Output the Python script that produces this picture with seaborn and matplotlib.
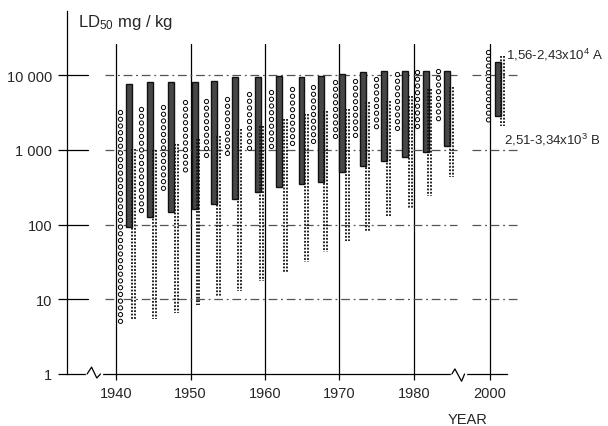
import matplotlib
matplotlib.use('Agg')
import matplotlib.pyplot as plt
import matplotlib.transforms as mtransforms
import seaborn as sns

# LD50 ranges (mg/kg) per period: open circles, dark bars, dotted columns
circle_year = [1940.5, 1943.4, 1946.3, 1949.3, 1952.1, 1954.9, 1957.9, 1960.8, 1963.6,
               1966.4, 1969.4, 1972.1, 1974.9, 1977.7, 1980.4, 1983.2, 1999.8]
circle_high = [3200, 3500, 3700, 4400, 4500, 4800, 5600, 6000, 6600,
               7000, 8100, 8400, 8900, 10400, 11000, 11400, 20500]
circle_low = [5, 130, 275, 500, 760, 880, 970, 970, 1100,
              1280, 1320, 1550, 1740, 1900, 1800, 2200, 2350]

bar_year = [1941.7, 1944.5, 1947.4, 1950.6, 1953.2, 1956.0, 1959.0, 1961.9, 1964.9,
            1967.5, 1970.4, 1973.2, 1976.0, 1978.8, 1981.6, 1984.4, 2001.1]
bar_high = [7600, 8100, 8100, 8100, 8400, 9500, 9500, 9800, 9500,
            9800, 10400, 11000, 11400, 11400, 11400, 11400, 15000]
bar_low = [93, 126, 148, 160, 190, 220, 275, 320, 350,
           370, 500, 610, 710, 800, 930, 1120, 2800]

dot_year = [1942.3, 1945.2, 1948.1, 1951.0, 1953.8, 1956.6, 1959.5, 1962.7, 1965.6,
            1968.1, 1971.1, 1973.8, 1976.6, 1979.5, 1982.1, 1985.0, 2001.7]
dot_high = [1030, 1000, 1200, 1400, 1550, 1900, 2100, 2600, 3000,
            3300, 3500, 4400, 4500, 5200, 6600, 7000, 18000]
dot_low = [5.5, 5.5, 6.5, 8.5, 10.7, 13, 17.6, 23, 32,
           43, 60, 80, 130, 160, 240, 430, 2100]

year_ticks = [1940, 1950, 1960, 1970, 1980, 2000]
ld_ticks = [1, 10, 100, 1000, 10000]
ld_labels = ['1', '10', '100', '1 000', '10 000']

label_a = '1,56-2,43x10$^4$ A'
label_b = '2,51-3,34x10$^3$ B'

# axis is broken between 1986 and 1996
SHIFT = 9.8


def ax_x(year):
    return year - SHIFT if year > 1990 else year


sns.set_theme(style='white')
plt.rcParams['font.family'] = ['Liberation Sans', 'DejaVu Sans']
plt.rcParams['mathtext.fontset'] = 'custom'
plt.rcParams['mathtext.rm'] = 'Liberation Sans'
plt.rcParams['mathtext.it'] = 'Liberation Sans:italic'
plt.rcParams['mathtext.bf'] = 'Liberation Sans:bold'

fig = plt.figure(figsize=(6.08, 4.27), dpi=100)
ax = fig.add_axes([67 / 608, 52 / 427, 440 / 608, 363 / 427])
ax.set_yscale('log')
ax.set_xlim(1933.4, 1992.5)
ax.set_ylim(1, 72000)

# vertical year lines
for yr in year_ticks:
    ax.plot([ax_x(yr), ax_x(yr)], [1, 26000], color='black', lw=0.9, zorder=1)

# dash-dot horizontal lines, interrupted at the break
for v in ld_ticks[1:]:
    for x0, x1 in [(1938.5, 1985.8), (1987.8, 1993.8)]:
        ax.plot([x0, x1], [v, v], color='#555555', lw=0.9,
                linestyle=(0, (7, 3, 1.5, 3)), zorder=1, clip_on=False)
    ax.plot([0, 0.048], [v, v], color='black', lw=0.9,
            transform=ax.get_yaxis_transform(), clip_on=False)

# dark bars
ax.bar([ax_x(x) for x in bar_year], [h - l for h, l in zip(bar_high, bar_low)],
       bottom=bar_low, width=0.8, color='#474747', edgecolor='#111111',
       linewidth=1.0, zorder=3)

# open circle columns (dash pattern with round caps)
period = 4.85
for x, lo, hi in zip(circle_year, circle_low, circle_high):
    xx = ax_x(x)
    ax.plot([xx, xx], [hi, lo], color='black', lw=3.8,
            linestyle=(0, (0.01, period / 3.8 - 0.01)), dash_capstyle='round', zorder=4)
    ax.plot([xx, xx], [hi, lo], color='white', lw=2.4,
            linestyle=(0, (0.01, period / 2.4 - 0.01)), dash_capstyle='round', zorder=5)

# dotted columns, two rows of dots
left_tr = mtransforms.offset_copy(ax.transData, fig=fig, x=-1.0, y=0, units='points')
right_tr = mtransforms.offset_copy(ax.transData, fig=fig, x=1.0, y=0, units='points')
for x, lo, hi in zip(dot_year, dot_low, dot_high):
    xx = ax_x(x)
    for tr in (left_tr, right_tr):
        ax.plot([xx, xx], [hi, lo], color='#111111', lw=1.3,
                linestyle=(0, (1, 0.9)), transform=tr, zorder=4, clip_on=False)

# axes styling
sns.despine(ax=ax, top=True, right=True)
for side in ('left', 'bottom'):
    ax.spines[side].set_color('black')
    ax.spines[side].set_linewidth(0.9)

ax.set_yticks(ld_ticks)
ax.set_yticklabels(ld_labels)
ax.minorticks_off()
ax.set_xticks([ax_x(y) for y in year_ticks])
ax.set_xticklabels([str(y) for y in year_ticks])
ax.tick_params(axis='y', direction='out', length=6.5, width=0.9, pad=4,
               labelsize=10.5, left=True, color='black')
ax.tick_params(axis='x', direction='out', length=4.5, width=0.9, pad=4,
               labelsize=10.5, bottom=True, color='black')
ax.grid(False)

# break marks on the bottom axis
xtr = ax.get_xaxis_transform()
for xs, ys in [([1936.1, 1936.7, 1937.4, 1937.9], [0, 0.019, -0.011, 0]),
               ([1985.1, 1985.5, 1986.4, 1986.8], [0, 0.014, -0.02, 0])]:
    ax.plot([xs[0], xs[-1]], [0, 0], color='white', lw=2.5, transform=xtr,
            clip_on=False, zorder=6)
    ax.plot(xs, ys, color='black', lw=0.9, transform=xtr, clip_on=False, zorder=7)

# texts
ax.text(0.025, 0.959, 'LD$_{50}$ mg / kg', transform=ax.transAxes,
        fontsize=12, ha='left', va='baseline')
ax.text(0.911, -0.124, 'YEAR', transform=ax.transAxes, fontsize=10.5,
        ha='center', va='center')
ax.text(1992.4, 19200, label_a, fontsize=9.5, ha='left', va='center', clip_on=False)
ax.text(1992.1, 1400, label_b, fontsize=9.5, ha='left', va='center', clip_on=False)

fig.savefig('out.png', dpi=100)
